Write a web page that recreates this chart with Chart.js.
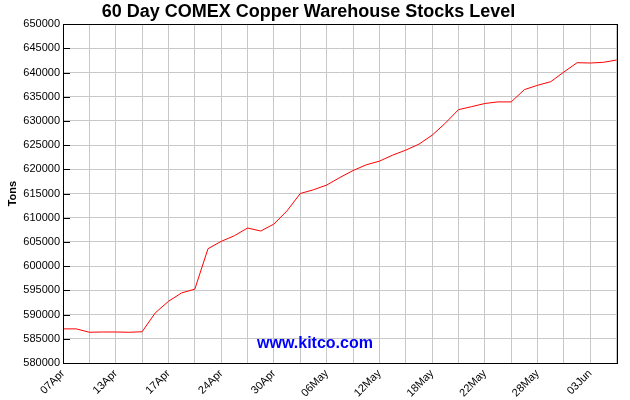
<!DOCTYPE html>
<html>
<head>
<meta charset="utf-8">
<script src="https://cdn.jsdelivr.net/npm/chart.js@4"></script>
<style>
  html, body { margin: 0; padding: 0; background: #fff; }
  #wrap { width: 630px; height: 400px; }
</style>
</head>
<body>
<div id="wrap"><canvas id="chart" width="630" height="400"></canvas></div>
<script>
// trading days, one point each
const days = [
  '07Apr', '08Apr', '09Apr', '10Apr', '13Apr', '14Apr', '15Apr', '16Apr',
  '17Apr', '20Apr', '21Apr', '23Apr', '24Apr', '27Apr', '28Apr', '29Apr',
  '30Apr', '01May', '04May', '05May', '06May', '07May', '08May', '11May',
  '12May', '13May', '14May', '15May', '18May', '19May', '20May', '21May',
  '22May', '25May', '26May', '27May', '28May', '29May', '01Jun', '02Jun',
  '03Jun', '04Jun', '05Jun'
];
// stocks in tons
const stocks = [
  587050, 587050, 586350, 586400, 586400, 586350, 586450, 590350,
  592740, 594480, 595250, 603610, 605120, 606290, 607880, 607260,
  608700, 611450, 615010, 615780, 616750, 618310, 619750, 620930,
  621690, 622930, 623960, 625200, 627050, 629530, 632330, 632950,
  633600, 633930, 633930, 636460, 637360, 638110, 640110, 642030,
  641960, 642110, 642580
];
const yMin = 580000, yMax = 650000, yStep = 5000;

const FONT = "'Liberation Sans', Arial, sans-serif";

// black box round the plot, inward ticks on the left axis, kitco mark
const frame = {
  id: 'frame',
  afterDatasetsDraw(chart) {
    const { ctx, chartArea: a, scales } = chart;
    ctx.save();
    ctx.strokeStyle = '#000';
    ctx.lineWidth = 1;
    scales.y.ticks.forEach(t => {
      const y = Math.round(scales.y.getPixelForValue(t.value)) + 0.5;
      ctx.beginPath();
      ctx.moveTo(a.left, y);
      ctx.lineTo(a.left + 7, y);
      ctx.stroke();
    });
    ctx.strokeRect(Math.round(a.left) + 0.5, Math.round(a.top) + 0.5,
      Math.round(a.right - a.left), Math.round(a.bottom - a.top));
    ctx.fillStyle = '#0000ff';
    ctx.font = 'bold 16px ' + FONT;
    ctx.textAlign = 'center';
    ctx.textBaseline = 'middle';
    ctx.fillText('www.kitco.com', 315, 344);
    ctx.restore();
  }
};

new Chart(document.getElementById('chart'), {
  type: 'line',
  data: {
    labels: days,
    datasets: [{
      data: stocks,
      borderColor: '#ff0000',
      borderWidth: 1,
      pointRadius: 0,
      tension: 0,
      fill: false
    }]
  },
  options: {
    responsive: false,
    animation: false,
    layout: { padding: { right: 13, left: 0, bottom: 0, top: 0 } },
    plugins: {
      legend: { display: false },
      tooltip: { enabled: false },
      title: {
        display: true,
        text: '60 Day COMEX Copper Warehouse Stocks Level',
        color: '#000',
        font: { family: FONT, size: 18, weight: 'bold' },
        padding: { top: 1, bottom: 1.5 }
      }
    },
    scales: {
      x: {
        afterFit: s => { s.height = 37; },
        grid: {
          drawTicks: false,
          color: c => (c.index % 2 === 0 ? '#c8c8c8' : 'rgba(0,0,0,0)')
        },
        border: { color: '#000' },
        ticks: {
          autoSkip: false,
          minRotation: 45,
          maxRotation: 45,
          padding: 4,
          color: '#000',
          font: { family: FONT, size: 11 },
          callback: (v, i) => (i % 4 === 0 ? days[i] : '')
        }
      },
      y: {
        min: yMin,
        max: yMax,
        afterFit: s => { s.width = 63; },
        grid: { drawTicks: false, color: '#c8c8c8' },
        border: { color: '#000' },
        title: {
          display: true,
          text: 'Tons',
          color: '#000',
          font: { family: FONT, size: 11, weight: 'bold' },
          padding: { top: 6, bottom: 0 }
        },
        ticks: {
          stepSize: yStep,
          padding: 3,
          color: '#000',
          font: { family: FONT, size: 11 },
          callback: v => String(v)
        }
      }
    }
  },
  plugins: [frame]
});
</script>
</body>
</html>
